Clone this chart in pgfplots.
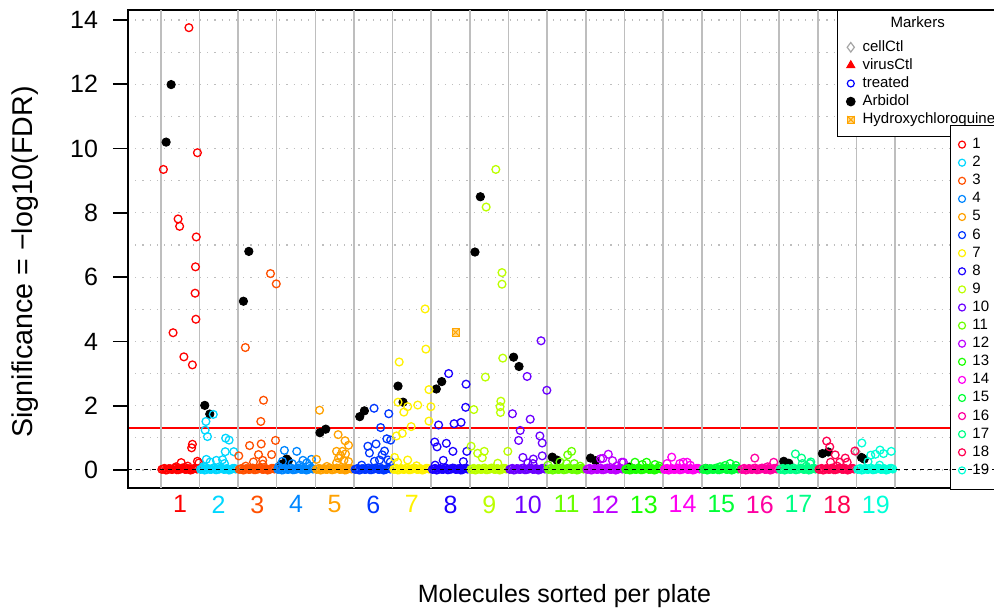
\documentclass[border=0pt]{standalone}
\usepackage{pgfplots}
\pgfplotsset{compat=1.18}
\usepackage{fontspec}
\setmainfont{Liberation Sans}
\definecolor{c1}{HTML}{FF0000}
\definecolor{c2}{HTML}{00D7FF}
\definecolor{c3}{HTML}{FF5000}
\definecolor{c4}{HTML}{0086FF}
\definecolor{c5}{HTML}{FFA100}
\definecolor{c6}{HTML}{0036FF}
\definecolor{c7}{HTML}{FFF100}
\definecolor{c8}{HTML}{1B00FF}
\definecolor{c9}{HTML}{BCFF00}
\definecolor{c10}{HTML}{6B00FF}
\definecolor{c11}{HTML}{6BFF00}
\definecolor{c12}{HTML}{BC00FF}
\definecolor{c13}{HTML}{1BFF00}
\definecolor{c14}{HTML}{FF00F1}
\definecolor{c15}{HTML}{00FF36}
\definecolor{c16}{HTML}{FF00A1}
\definecolor{c17}{HTML}{00FF86}
\definecolor{c18}{HTML}{FF0050}
\definecolor{c19}{HTML}{00FFD7}
\definecolor{gridgray}{HTML}{BEBEBE}
\definecolor{hcq}{HTML}{FFA500}
\pgfdeclareplotmark{sqx}{%
  \pgfpathrectangle{\pgfqpoint{-\pgfplotmarksize}{-\pgfplotmarksize}}{\pgfqpoint{2\pgfplotmarksize}{2\pgfplotmarksize}}%
  \pgfusepathqfillstroke
  \pgfpathmoveto{\pgfqpoint{-\pgfplotmarksize}{-\pgfplotmarksize}}\pgfpathlineto{\pgfqpoint{\pgfplotmarksize}{\pgfplotmarksize}}%
  \pgfpathmoveto{\pgfqpoint{-\pgfplotmarksize}{\pgfplotmarksize}}\pgfpathlineto{\pgfqpoint{\pgfplotmarksize}{-\pgfplotmarksize}}%
  \pgfusepathqstroke}
\pgfplotsset{
  base/.style={at={(64pt,60.5pt)}, anchor=south west, scale only axis,
    width=436.5pt, height=239pt, xmin=-0.846, xmax=21.74, ymin=-0.56, ymax=14.31, clip=false},
  pl/.style={only marks, mark=o, mark size=1.95pt, line width=0.65pt, #1},
  legimg/.style={legend cell align=left,
    legend image code/.code={\draw[##1, only marks] plot coordinates {(0pt,0pt)};}},
}
\begin{document}
\begin{tikzpicture}
\useasboundingbox (0,0) rectangle (497pt,304.5pt);
\begin{axis}[base,
  axis on top,
  axis line style={line width=0.8pt},
  xtick={0.5,1.5,...,18.5},
  xticklabels={\textcolor{c1}{1},\textcolor{c2}{2},\textcolor{c3}{3},\textcolor{c4}{4},\textcolor{c5}{5},\textcolor{c6}{6},\textcolor{c7}{7},\textcolor{c8}{8},\textcolor{c9}{9},\textcolor{c10}{10},\textcolor{c11}{11},\textcolor{c12}{12},\textcolor{c13}{13},\textcolor{c14}{14},\textcolor{c15}{15},\textcolor{c16}{16},\textcolor{c17}{17},\textcolor{c18}{18},\textcolor{c19}{19}},
  xtick style={draw=none},
  xticklabel style={font=\fontsize{12.5}{14}\selectfont, anchor=north, inner sep=0pt, yshift=3.8pt},
  ytick={0,2,...,14},
  minor ytick={1,3,...,13},
  ytick pos=left,
  tick align=outside,
  major tick length=7.5pt, minor tick length=0pt,
  tick style={line width=0.8pt, black},
  yticklabel style={font=\fontsize{12.5}{14}\selectfont, xshift=-4pt},
  /pgf/number format/assume math mode=true,
  ymajorgrids, yminorgrids,
  grid style={gridgray, line width=0.6pt, dash pattern=on 0.6pt off 3pt},
  extra x ticks={0,1,...,19},
  extra x tick labels={},
  extra x tick style={grid=major, major grid style={gridgray, line width=0.8pt, solid}, tick style={draw=none}},
  xlabel={Molecules sorted per plate},
  ylabel={Significance = −log10(FDR)},
  xlabel style={at={(axis description cs:0.5,-0.226)}, anchor=center, font=\fontsize{12.5}{14}\selectfont},
  ylabel style={at={(axis description cs:-0.118,0.473)}, anchor=center, font=\fontsize{14.3}{16}\selectfont},
]
% Arbidol
\addplot[only marks, mark=*, mark size=2.1pt, black] coordinates {(0.27,11.99)(0.14,10.20)(1.14,2.01)(1.27,1.74)(2.28,6.80)(2.14,5.25)(3.26,0.34)(3.30,0.28)(3.12,0.18)(4.12,1.16)(4.27,1.27)(5.15,1.66)(5.27,1.84)(6.14,2.61)(6.27,2.11)(7.13,2.52)(7.27,2.75)(8.27,8.50)(8.13,6.78)(9.13,3.51)(9.27,3.22)(10.13,0.40)(10.25,0.31)(11.12,0.37)(11.25,0.29)(12.12,0.09)(12.20,0.05)(14.10,0.05)(16.12,0.27)(16.25,0.21)(17.12,0.51)(17.27,0.56)(18.13,0.39)(18.20,0.34)};
% cellCtl
\addplot[only marks, mark=diamond, mark size=2.4pt, draw=gray!70, line width=0.6pt] coordinates {(18.00,0.57)};
% Hydroxychloroquine
\addplot[only marks, mark=sqx, mark size=1.8pt, draw=hcq, fill=hcq!45, line width=0.5pt] coordinates {(7.63,4.28)};
\addplot[pl=c1] coordinates {(0.03,0.02)(0.10,0.05)(0.17,0.01)(0.24,0.04)(0.31,0.02)(0.38,0.06)(0.45,0.01)(0.52,0.03)(0.59,0.05)(0.66,0.02)(0.73,0.04)(0.80,0.01)(0.87,0.05)(0.94,0.03)
 (0.065,0.03)(0.135,0.00)(0.205,0.04)(0.275,0.02)(0.345,0.05)(0.415,0.01)(0.485,0.03)(0.555,0.06)(0.625,0.02)(0.695,0.04)(0.765,0.00)(0.835,0.03)(0.905,0.05)
 (0.73,13.76)(0.95,9.87)(0.07,9.35)(0.45,7.81)(0.49,7.58)(0.92,7.25)(0.90,6.32)(0.89,5.50)(0.91,4.69)(0.32,4.27)(0.60,3.52)(0.82,3.27)(0.82,0.80)(0.80,0.69)(0.53,0.23)(0.70,0.12)(0.95,0.27)(0.99,0.22)(0.40,0.10)(0.62,0.08)};
\addplot[pl=c2] coordinates {(1.03,0.02)(1.10,0.05)(1.17,0.01)(1.24,0.04)(1.31,0.02)(1.38,0.06)(1.45,0.01)(1.52,0.03)(1.59,0.05)(1.66,0.02)(1.73,0.04)(1.80,0.01)(1.87,0.05)(1.94,0.03)
 (1.065,0.03)(1.135,0.00)(1.205,0.04)(1.275,0.02)(1.345,0.05)(1.415,0.01)(1.485,0.03)(1.555,0.06)(1.625,0.02)(1.695,0.04)(1.765,0.00)(1.835,0.03)(1.905,0.05)
 (1.36,1.73)(1.17,1.51)(1.15,1.24)(1.21,1.04)(1.68,0.99)(1.77,0.93)(1.89,0.57)(1.67,0.57)(1.18,0.33)(1.28,0.25)(1.44,0.30)(1.60,0.32)(1.65,0.20)(1.10,0.10)};
\addplot[pl=c3] coordinates {(2.03,0.02)(2.10,0.05)(2.17,0.01)(2.24,0.04)(2.31,0.02)(2.38,0.06)(2.45,0.01)(2.52,0.03)(2.59,0.05)(2.66,0.02)(2.73,0.04)(2.80,0.01)(2.87,0.05)(2.94,0.03)
 (2.065,0.03)(2.135,0.00)(2.205,0.04)(2.275,0.02)(2.345,0.05)(2.415,0.01)(2.485,0.03)(2.555,0.06)(2.625,0.02)(2.695,0.04)(2.765,0.00)(2.835,0.03)(2.905,0.05)
 (2.84,6.11)(2.99,5.79)(2.19,3.81)(2.66,2.17)(2.59,1.51)(2.97,0.92)(2.60,0.81)(2.30,0.76)(2.53,0.48)(2.87,0.48)(2.64,0.30)(2.64,0.18)(2.40,0.25)(2.02,0.44)(2.20,0.12)};
\addplot[pl=c4] coordinates {(3.03,0.02)(3.10,0.05)(3.17,0.01)(3.24,0.04)(3.31,0.02)(3.38,0.06)(3.45,0.01)(3.52,0.03)(3.59,0.05)(3.66,0.02)(3.73,0.04)(3.80,0.01)(3.87,0.05)(3.94,0.03)
 (3.065,0.03)(3.135,0.00)(3.205,0.04)(3.275,0.02)(3.345,0.05)(3.415,0.01)(3.485,0.03)(3.555,0.06)(3.625,0.02)(3.695,0.04)(3.765,0.00)(3.835,0.03)(3.905,0.05)
 (3.20,0.61)(3.52,0.58)(3.90,0.33)(3.68,0.30)(3.78,0.22)(3.40,0.20)(3.15,0.27)(3.60,0.15)(3.85,0.12)(3.05,0.10)};
\addplot[pl=c5] coordinates {(4.03,0.02)(4.10,0.05)(4.17,0.01)(4.24,0.04)(4.31,0.02)(4.38,0.06)(4.45,0.01)(4.52,0.03)(4.59,0.05)(4.66,0.02)(4.73,0.04)(4.80,0.01)(4.87,0.05)(4.94,0.03)
 (4.065,0.03)(4.135,0.00)(4.205,0.04)(4.275,0.02)(4.345,0.05)(4.415,0.01)(4.485,0.03)(4.555,0.06)(4.625,0.02)(4.695,0.04)(4.765,0.00)(4.835,0.03)(4.905,0.05)
 (4.11,1.86)(4.59,1.10)(4.77,0.91)(4.86,0.77)(4.55,0.58)(4.70,0.58)(4.78,0.50)(4.60,0.37)(4.74,0.30)(4.86,0.26)(4.55,0.22)(4.03,0.33)(4.30,0.11)(4.65,0.45)};
\addplot[pl=c6] coordinates {(5.03,0.02)(5.10,0.05)(5.17,0.01)(5.24,0.04)(5.31,0.02)(5.38,0.06)(5.45,0.01)(5.52,0.03)(5.59,0.05)(5.66,0.02)(5.73,0.04)(5.80,0.01)(5.87,0.05)(5.94,0.03)
 (5.065,0.03)(5.135,0.00)(5.205,0.04)(5.275,0.02)(5.345,0.05)(5.415,0.01)(5.485,0.03)(5.555,0.06)(5.625,0.02)(5.695,0.04)(5.765,0.00)(5.835,0.03)(5.905,0.05)
 (5.52,1.92)(5.90,1.75)(5.69,1.32)(5.36,0.74)(5.57,0.81)(5.40,0.53)(5.85,0.97)(5.95,0.93)(5.79,0.59)(5.73,0.47)(5.66,0.31)(5.53,0.27)(5.88,0.31)(5.94,0.25)(5.20,0.15)};
\addplot[pl=c7] coordinates {(6.03,0.02)(6.10,0.05)(6.17,0.01)(6.24,0.04)(6.31,0.02)(6.38,0.06)(6.45,0.01)(6.52,0.03)(6.59,0.05)(6.66,0.02)(6.73,0.04)(6.80,0.01)(6.87,0.05)(6.94,0.03)
 (6.065,0.03)(6.135,0.00)(6.205,0.04)(6.275,0.02)(6.345,0.05)(6.415,0.01)(6.485,0.03)(6.555,0.06)(6.625,0.02)(6.695,0.04)(6.765,0.00)(6.835,0.03)(6.905,0.05)
 (6.84,5.01)(6.86,3.76)(6.17,3.36)(6.94,2.50)(6.14,2.11)(6.39,1.97)(6.29,1.80)(6.65,2.02)(6.99,1.97)(6.94,1.52)(6.48,1.35)(6.10,1.06)(6.25,1.14)(6.05,0.39)(6.13,0.24)(6.39,0.31)(6.62,0.13)};
\addplot[pl=c8] coordinates {(7.03,0.02)(7.10,0.05)(7.17,0.01)(7.24,0.04)(7.31,0.02)(7.38,0.06)(7.45,0.01)(7.52,0.03)(7.59,0.05)(7.66,0.02)(7.73,0.04)(7.80,0.01)(7.87,0.05)(7.94,0.03)
 (7.065,0.03)(7.135,0.00)(7.205,0.04)(7.275,0.02)(7.345,0.05)(7.415,0.01)(7.485,0.03)(7.555,0.06)(7.625,0.02)(7.695,0.04)(7.765,0.00)(7.835,0.03)(7.905,0.05)
 (7.45,3.00)(7.90,2.67)(7.89,1.95)(7.19,1.40)(7.59,1.44)(7.77,1.48)(7.09,0.87)(7.15,0.72)(7.39,0.83)(7.56,0.58)(7.92,0.58)(7.31,0.30)(7.83,0.26)(7.10,0.15)};
\addplot[pl=c9] coordinates {(8.03,0.02)(8.10,0.05)(8.17,0.01)(8.24,0.04)(8.31,0.02)(8.38,0.06)(8.45,0.01)(8.52,0.03)(8.59,0.05)(8.66,0.02)(8.73,0.04)(8.80,0.01)(8.87,0.05)(8.94,0.03)
 (8.065,0.03)(8.135,0.00)(8.205,0.04)(8.275,0.02)(8.345,0.05)(8.415,0.01)(8.485,0.03)(8.555,0.06)(8.625,0.02)(8.695,0.04)(8.765,0.00)(8.835,0.03)(8.905,0.05)
 (8.67,9.35)(8.42,8.18)(8.83,6.14)(8.83,5.78)(8.85,3.48)(8.40,2.89)(8.80,2.14)(8.78,1.97)(8.79,1.79)(8.10,1.88)(8.03,0.74)(8.20,0.52)(8.37,0.58)(8.32,0.38)(8.98,0.58)(8.72,0.21)};
\addplot[pl=c10] coordinates {(9.03,0.02)(9.10,0.05)(9.17,0.01)(9.24,0.04)(9.31,0.02)(9.38,0.06)(9.45,0.01)(9.52,0.03)(9.59,0.05)(9.66,0.02)(9.73,0.04)(9.80,0.01)(9.87,0.05)(9.94,0.03)
 (9.065,0.03)(9.135,0.00)(9.205,0.04)(9.275,0.02)(9.345,0.05)(9.415,0.01)(9.485,0.03)(9.555,0.06)(9.625,0.02)(9.695,0.04)(9.765,0.00)(9.835,0.03)(9.905,0.05)
 (9.84,4.02)(9.48,2.91)(9.99,2.48)(9.10,1.75)(9.56,1.58)(9.30,1.23)(9.26,0.92)(9.81,1.06)(9.87,0.84)(9.37,0.39)(9.64,0.34)(9.87,0.44)(9.50,0.22)(9.63,0.20)};
\addplot[pl=c11] coordinates {(10.03,0.02)(10.10,0.05)(10.17,0.01)(10.24,0.04)(10.31,0.02)(10.38,0.06)(10.45,0.01)(10.52,0.03)(10.59,0.05)(10.66,0.02)(10.73,0.04)(10.80,0.01)(10.87,0.05)(10.94,0.03)
 (10.065,0.03)(10.135,0.00)(10.205,0.04)(10.275,0.02)(10.345,0.05)(10.415,0.01)(10.485,0.03)(10.555,0.06)(10.625,0.02)(10.695,0.04)(10.765,0.00)(10.835,0.03)(10.905,0.05)
 (10.63,0.58)(10.53,0.47)(10.33,0.25)(10.70,0.20)(10.50,0.20)(10.02,0.15)(10.85,0.12)};
\addplot[pl=c12] coordinates {(11.03,0.02)(11.10,0.05)(11.17,0.01)(11.24,0.04)(11.31,0.02)(11.38,0.06)(11.45,0.01)(11.52,0.03)(11.59,0.05)(11.66,0.02)(11.73,0.04)(11.80,0.01)(11.87,0.05)(11.94,0.03)
 (11.065,0.03)(11.135,0.00)(11.205,0.04)(11.275,0.02)(11.345,0.05)(11.415,0.01)(11.485,0.03)(11.555,0.06)(11.625,0.02)(11.695,0.04)(11.765,0.00)(11.835,0.03)(11.905,0.05)
 (11.58,0.49)(11.38,0.35)(11.69,0.29)(11.97,0.24)(11.44,0.36)(11.93,0.24)(11.80,0.12)};
\addplot[pl=c13] coordinates {(12.03,0.02)(12.10,0.05)(12.17,0.01)(12.24,0.04)(12.31,0.02)(12.38,0.06)(12.45,0.01)(12.52,0.03)(12.59,0.05)(12.66,0.02)(12.73,0.04)(12.80,0.01)(12.87,0.05)(12.94,0.03)
 (12.065,0.03)(12.135,0.00)(12.205,0.04)(12.275,0.02)(12.345,0.05)(12.415,0.01)(12.485,0.03)(12.555,0.06)(12.625,0.02)(12.695,0.04)(12.765,0.00)(12.835,0.03)(12.905,0.05)
 (12.27,0.24)(12.57,0.24)(12.79,0.17)(12.46,0.17)(12.90,0.12)};
\addplot[pl=c14] coordinates {(13.03,0.02)(13.10,0.05)(13.17,0.01)(13.24,0.04)(13.31,0.02)(13.38,0.06)(13.45,0.01)(13.52,0.03)(13.59,0.05)(13.66,0.02)(13.73,0.04)(13.80,0.01)(13.87,0.05)(13.94,0.03)
 (13.065,0.03)(13.135,0.00)(13.205,0.04)(13.275,0.02)(13.345,0.05)(13.415,0.01)(13.485,0.03)(13.555,0.06)(13.625,0.02)(13.695,0.04)(13.765,0.00)(13.835,0.03)(13.905,0.05)
 (13.22,0.40)(13.62,0.24)(13.52,0.24)(13.43,0.20)(13.10,0.20)(13.70,0.15)};
\addplot[pl=c15] coordinates {(14.03,0.02)(14.10,0.05)(14.17,0.01)(14.24,0.04)(14.31,0.02)(14.38,0.06)(14.45,0.01)(14.52,0.03)(14.59,0.05)(14.66,0.02)(14.73,0.04)(14.80,0.01)(14.87,0.05)(14.94,0.03)
 (14.065,0.03)(14.135,0.00)(14.205,0.04)(14.275,0.02)(14.345,0.05)(14.415,0.01)(14.485,0.03)(14.555,0.06)(14.625,0.02)(14.695,0.04)(14.765,0.00)(14.835,0.03)(14.905,0.05)
 (14.73,0.20)(14.88,0.14)(14.60,0.14)(14.47,0.10)};
\addplot[pl=c16] coordinates {(15.03,0.02)(15.10,0.05)(15.17,0.01)(15.24,0.04)(15.31,0.02)(15.38,0.06)(15.45,0.01)(15.52,0.03)(15.59,0.05)(15.66,0.02)(15.73,0.04)(15.80,0.01)(15.87,0.05)(15.94,0.03)
 (15.065,0.03)(15.135,0.00)(15.205,0.04)(15.275,0.02)(15.345,0.05)(15.415,0.01)(15.485,0.03)(15.555,0.06)(15.625,0.02)(15.695,0.04)(15.765,0.00)(15.835,0.03)(15.905,0.05)
 (15.37,0.37)(15.86,0.24)(15.70,0.10)};
\addplot[pl=c17] coordinates {(16.03,0.02)(16.10,0.05)(16.17,0.01)(16.24,0.04)(16.31,0.02)(16.38,0.06)(16.45,0.01)(16.52,0.03)(16.59,0.05)(16.66,0.02)(16.73,0.04)(16.80,0.01)(16.87,0.05)(16.94,0.03)
 (16.065,0.03)(16.135,0.00)(16.205,0.04)(16.275,0.02)(16.345,0.05)(16.415,0.01)(16.485,0.03)(16.555,0.06)(16.625,0.02)(16.695,0.04)(16.765,0.00)(16.835,0.03)(16.905,0.05)
 (16.42,0.50)(16.58,0.37)(16.80,0.20)(16.60,0.20)(16.82,0.25)(16.70,0.12)};
\addplot[pl=c18] coordinates {(17.03,0.02)(17.10,0.05)(17.17,0.01)(17.24,0.04)(17.31,0.02)(17.38,0.06)(17.45,0.01)(17.52,0.03)(17.59,0.05)(17.66,0.02)(17.73,0.04)(17.80,0.01)(17.87,0.05)(17.94,0.03)
 (17.065,0.03)(17.135,0.00)(17.205,0.04)(17.275,0.02)(17.345,0.05)(17.415,0.01)(17.485,0.03)(17.555,0.06)(17.625,0.02)(17.695,0.04)(17.765,0.00)(17.835,0.03)(17.905,0.05)
 (17.23,0.90)(17.31,0.72)(17.45,0.47)(17.71,0.37)(17.33,0.24)(17.57,0.24)(17.76,0.24)(17.96,0.59)(17.50,0.12)};
\addplot[pl=c19] coordinates {(18.03,0.02)(18.10,0.05)(18.17,0.01)(18.24,0.04)(18.31,0.02)(18.38,0.06)(18.45,0.01)(18.52,0.03)(18.59,0.05)(18.66,0.02)(18.73,0.04)(18.80,0.01)(18.87,0.05)(18.94,0.03)
 (18.065,0.03)(18.135,0.00)(18.205,0.04)(18.275,0.02)(18.345,0.05)(18.415,0.01)(18.485,0.03)(18.555,0.06)(18.625,0.02)(18.695,0.04)(18.765,0.00)(18.835,0.03)(18.905,0.05)
 (18.14,0.84)(18.61,0.62)(18.49,0.49)(18.37,0.46)(18.90,0.58)(18.70,0.51)(18.30,0.26)(18.60,0.15)};
% FDR threshold
\addplot[red, line width=0.8pt] coordinates {(-0.846,1.301) (21.74,1.301)};
\end{axis}
% legend: Markers
\begin{axis}[base, hide axis, legimg,
  legend style={at={(0.8121,1)}, anchor=north west, draw=black, line width=0.6pt, fill=white,
    inner xsep=4.5pt, inner ysep=4.9pt, row sep=1.95pt, column sep=3.8pt,
    font=\fontsize{7.5}{9}\selectfont, nodes={inner sep=0pt, text height=5.5pt, text depth=1.6pt}}]
\addlegendimage{empty legend}
\addlegendentry[text height=3.8pt, text depth=4.15pt]{\hspace{14pt}Markers}
\addlegendimage{mark=diamond, mark size=2.4pt, draw=gray!70, line width=0.6pt}
\addlegendentry{cellCtl}
\addlegendimage{mark=triangle*, mark size=2.2pt, red}
\addlegendentry{virusCtl}
\addlegendimage{mark=o, mark size=1.75pt, line width=0.6pt, blue}
\addlegendentry{treated}
\addlegendimage{mark=*, mark size=2.1pt, black}
\addlegendentry{Arbidol}
\addlegendimage{mark=sqx, mark size=1.8pt, draw=hcq, fill=hcq!45, line width=0.5pt}
\addlegendentry{Hydroxychloroquine}
\end{axis}
% legend: plates
\begin{axis}[base, hide axis, legimg,
  legend style={at={(0.9416,0.7594)}, anchor=north west, draw=black, line width=0.6pt, fill=white,
    inner xsep=3.95pt, inner ysep=5.95pt, row sep=1.95pt, column sep=3.45pt,
    font=\fontsize{7.5}{9}\selectfont, nodes={inner sep=0pt, text height=5.5pt, text depth=1.6pt}},
  legend entries={1,2,3,4,5,6,7,8,9,10,11,12,13,14,15,16,17,18,19}]
\addlegendimage{mark=o, mark size=1.75pt, line width=0.6pt, c1}
\addlegendimage{mark=o, mark size=1.75pt, line width=0.6pt, c2}
\addlegendimage{mark=o, mark size=1.75pt, line width=0.6pt, c3}
\addlegendimage{mark=o, mark size=1.75pt, line width=0.6pt, c4}
\addlegendimage{mark=o, mark size=1.75pt, line width=0.6pt, c5}
\addlegendimage{mark=o, mark size=1.75pt, line width=0.6pt, c6}
\addlegendimage{mark=o, mark size=1.75pt, line width=0.6pt, c7}
\addlegendimage{mark=o, mark size=1.75pt, line width=0.6pt, c8}
\addlegendimage{mark=o, mark size=1.75pt, line width=0.6pt, c9}
\addlegendimage{mark=o, mark size=1.75pt, line width=0.6pt, c10}
\addlegendimage{mark=o, mark size=1.75pt, line width=0.6pt, c11}
\addlegendimage{mark=o, mark size=1.75pt, line width=0.6pt, c12}
\addlegendimage{mark=o, mark size=1.75pt, line width=0.6pt, c13}
\addlegendimage{mark=o, mark size=1.75pt, line width=0.6pt, c14}
\addlegendimage{mark=o, mark size=1.75pt, line width=0.6pt, c15}
\addlegendimage{mark=o, mark size=1.75pt, line width=0.6pt, c16}
\addlegendimage{mark=o, mark size=1.75pt, line width=0.6pt, c17}
\addlegendimage{mark=o, mark size=1.75pt, line width=0.6pt, c18}
\addlegendimage{mark=o, mark size=1.75pt, line width=0.6pt, c19}
\end{axis}
% zero line
\begin{axis}[base, hide axis]
\addplot[black, line width=0.5pt, dash pattern=on 2pt off 2pt] coordinates {(-0.846,0) (23,0)};
\end{axis}
\end{tikzpicture}
\end{document}
